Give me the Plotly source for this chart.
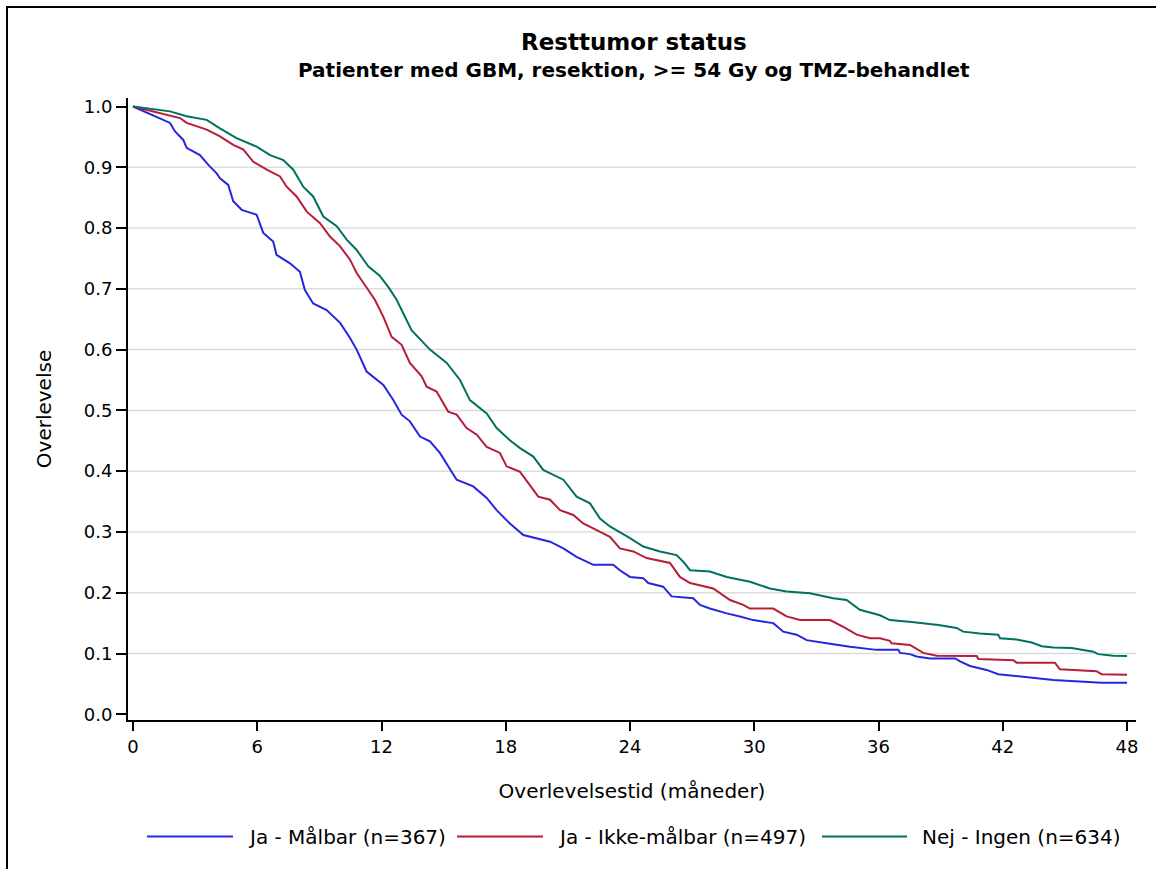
import plotly.graph_objects as go

# ---------------- data ----------------
months_malbar = [0, 0.34, 0.98, 1.46, 1.79, 2.03, 2.43, 2.59, 3.23, 3.64, 4.04, 4.2, 4.6, 4.84, 5.25,
                 5.97, 6.29, 6.77, 6.93, 7.58, 8.06, 8.3, 8.7, 9.35, 10.0, 10.48, 10.8, 11.28, 12.09,
                 12.57, 12.97, 13.37, 13.86, 14.34, 14.82, 15.22, 15.63, 16.43, 17.08, 17.56, 18.2,
                 18.85, 19.49, 20.14, 20.78, 21.42, 22.23, 23.19, 23.51, 24.0, 24.64, 24.88, 25.6,
                 26.01, 27.05, 27.38, 27.86, 28.67, 29.31, 29.95, 30.92, 31.4, 32.05, 32.53, 33.5,
                 34.62, 35.9, 36.96, 37.04, 37.52, 37.84, 38.48, 39.7, 39.94, 40.42, 41.22, 41.78,
                 42.99, 43.63, 44.44, 46.77, 48.0]
surv_malbar = [1.0, 0.995, 0.986, 0.978, 0.973, 0.959, 0.945, 0.932, 0.920, 0.904, 0.890, 0.882, 0.871,
               0.844, 0.830, 0.822, 0.792, 0.778, 0.756, 0.742, 0.728, 0.698, 0.676, 0.665, 0.644,
               0.619, 0.600, 0.564, 0.542, 0.517, 0.493, 0.482, 0.457, 0.449, 0.430, 0.408, 0.386,
               0.375, 0.356, 0.336, 0.314, 0.295, 0.290, 0.284, 0.273, 0.259, 0.246, 0.246, 0.237,
               0.226, 0.224, 0.216, 0.210, 0.194, 0.191, 0.180, 0.174, 0.166, 0.161, 0.155, 0.150,
               0.136, 0.131, 0.122, 0.117, 0.111, 0.106, 0.106, 0.101, 0.099, 0.095, 0.092, 0.092,
               0.087, 0.0795, 0.073, 0.066, 0.062, 0.059, 0.0565, 0.052, 0.052]

months_ikke = [0, 0.98, 2.27, 2.59, 3.56, 4.2, 4.84, 5.33, 5.81, 6.46, 7.1, 7.42, 7.9, 8.39, 9.03, 9.51,
               10.0, 10.48, 10.8, 11.36, 11.68, 12.09, 12.49, 12.97, 13.37, 13.94, 14.18, 14.66, 15.22,
               15.63, 16.11, 16.6, 17.08, 17.72, 18.04, 18.69, 19.17, 19.57, 20.14, 20.62, 21.26,
               21.74, 22.39, 23.03, 23.51, 24.16, 24.8, 25.93, 26.41, 26.9, 28.02, 28.83, 29.47,
               29.79, 30.92, 31.56, 32.21, 33.66, 34.3, 34.95, 35.59, 36.07, 36.55, 36.63, 37.52,
               37.84, 38.16, 38.81, 40.74, 40.82, 42.51, 42.67, 44.52, 44.76, 46.53, 46.77, 48.0]
surv_ikke = [1.0, 0.992, 0.981, 0.973, 0.962, 0.951, 0.937, 0.929, 0.909, 0.896, 0.885, 0.868, 0.852,
             0.827, 0.808, 0.786, 0.770, 0.748, 0.726, 0.698, 0.682, 0.654, 0.621, 0.608, 0.578,
             0.556, 0.539, 0.531, 0.498, 0.493, 0.471, 0.460, 0.440, 0.430, 0.408, 0.399, 0.377,
             0.358, 0.353, 0.336, 0.328, 0.314, 0.303, 0.292, 0.273, 0.268, 0.257, 0.249, 0.226,
             0.216, 0.207, 0.188, 0.180, 0.174, 0.174, 0.161, 0.155, 0.155, 0.144, 0.131, 0.125,
             0.125, 0.121, 0.117, 0.114, 0.107, 0.101, 0.0965, 0.096, 0.091, 0.089, 0.085, 0.085,
             0.074, 0.071, 0.066, 0.065]

months_ingen = [0, 1.79, 2.59, 3.56, 4.2, 5.0, 5.97, 6.62, 7.26, 7.74, 8.22, 8.7, 9.19, 9.84, 10.32,
                10.8, 11.36, 11.9, 12.35, 12.73, 13.45, 14.34, 15.15, 15.79, 16.27, 17.08, 17.56,
                18.2, 18.69, 19.33, 19.81, 20.78, 21.42, 22.07, 22.55, 23.03, 24.0, 24.64, 25.45,
                26.25, 26.57, 26.9, 27.86, 28.67, 29.79, 30.76, 31.56, 32.69, 33.81, 34.46, 35.1,
                36.07, 36.55, 37.6, 38.89, 39.77, 40.09, 40.9, 41.78, 41.87, 42.67, 43.4, 43.88,
                44.44, 45.33, 45.89, 46.37, 46.61, 47.34, 48.0]
surv_ingen = [1.0, 0.992, 0.984, 0.978, 0.964, 0.948, 0.934, 0.920, 0.912, 0.896, 0.868, 0.852, 0.819,
              0.803, 0.781, 0.764, 0.737, 0.722, 0.702, 0.682, 0.632, 0.600, 0.578, 0.550, 0.517,
              0.495, 0.471, 0.451, 0.438, 0.424, 0.402, 0.386, 0.358, 0.347, 0.322, 0.309, 0.290,
              0.276, 0.268, 0.262, 0.251, 0.237, 0.235, 0.226, 0.218, 0.207, 0.202, 0.199, 0.191,
              0.188, 0.172, 0.163, 0.155, 0.152, 0.147, 0.142, 0.136, 0.133, 0.131, 0.125, 0.123,
              0.118, 0.112, 0.110, 0.109, 0.106, 0.103, 0.099, 0.0965, 0.096]

series_names = ["Ja - Målbar (n=367)", "Ja - Ikke-målbar (n=497)", "Nej - Ingen (n=634)"]
x_ticks = [0, 6, 12, 18, 24, 30, 36, 42, 48]
y_ticks = [0.0, 0.1, 0.2, 0.3, 0.4, 0.5, 0.6, 0.7, 0.8, 0.9, 1.0]
grid_levels = [0.1, 0.2, 0.3, 0.4, 0.5, 0.6, 0.7, 0.8, 0.9]

title_text = "Resttumor status"
subtitle_text = "Patienter med GBM, resektion, >= 54 Gy og TMZ-behandlet"
x_title = "Overlevelsestid (måneder)"
y_title = "Overlevelse"

# ---------------- styling ----------------
FONT = "DejaVu Sans"
colors = ["#2626e0", "#b71c38", "#00705f"]
W, H = 1156, 869
L, R, T, B = 128, 20, 98, 149
PW, PH = W - L - R, H - T - B


def px(xp):
    return (xp - L) / PW


def py(yp):
    return (H - B - yp) / PH


fig = go.Figure()
for xs, ys, name, col in zip([months_malbar, months_ikke, months_ingen],
                             [surv_malbar, surv_ikke, surv_ingen], series_names, colors):
    fig.add_trace(go.Scatter(x=xs, y=ys, mode="lines", name=name, showlegend=False,
                             line=dict(color=col, width=2, shape="linear")))

shapes = []
# horizontal gridlines (not at 0 or 1)
for g in grid_levels:
    shapes.append(dict(type="line", xref="paper", yref="y", x0=0, x1=1, y0=g, y1=g,
                       line=dict(color="#dcdcdc", width=1.5), layer="below"))
# outer frame (top and left edges visible)
shapes.append(dict(type="rect", xref="paper", yref="paper", x0=px(7), y0=py(7),
                   x1=px(W + 50), y1=py(H + 50), line=dict(color="black", width=2),
                   fillcolor="rgba(0,0,0,0)", layer="below"))

annotations = [
    dict(text=f"<b>{title_text}</b>", xref="paper", yref="paper", x=px(634), y=py(42),
         xanchor="center", yanchor="middle", showarrow=False,
         font=dict(family=FONT, size=23, color="black")),
    dict(text=f"<b>{subtitle_text}</b>", xref="paper", yref="paper", x=px(634), y=py(70),
         xanchor="center", yanchor="middle", showarrow=False,
         font=dict(family=FONT, size=20, color="black")),
]

# legend (manual, to match the long sample lines)
leg_items = [(147, 233, 246), (457, 543, 556), (822, 907, 920)]
for (l0, l1, tx), name, col in zip(leg_items, series_names, colors):
    shapes.append(dict(type="line", xref="paper", yref="paper", x0=px(l0), x1=px(l1),
                       y0=py(836.5), y1=py(836.5), line=dict(color=col, width=2)))
    annotations.append(dict(text=name, xref="paper", yref="paper", x=px(tx), y=py(837),
                            xanchor="left", yanchor="middle", showarrow=False,
                            font=dict(family=FONT, size=20, color="black")))

fig.update_layout(
    width=W, height=H,
    margin=dict(l=L, r=R, t=T, b=B, pad=0),
    paper_bgcolor="white", plot_bgcolor="white",
    font=dict(family=FONT, size=18, color="black"),
    shapes=shapes, annotations=annotations, showlegend=False,
    xaxis=dict(range=[-0.2414, 48.4346], tickvals=x_ticks, ticktext=[str(v) for v in x_ticks],
               showgrid=False, zeroline=False, showline=True, linecolor="black", linewidth=2,
               ticks="outside", ticklen=9, tickwidth=2, tickcolor="black",
               tickfont=dict(family=FONT, size=18, color="black"),
               title=dict(text=x_title, font=dict(family=FONT, size=20, color="black"), standoff=28)),
    yaxis=dict(range=[-0.00938, 1.01399], tickvals=y_ticks, tickformat=".1f",
               showgrid=False, zeroline=False, showline=True, linecolor="black", linewidth=2,
               ticks="outside", ticklen=10, tickwidth=2, tickcolor="black",
               tickfont=dict(family=FONT, size=18, color="black"),
               title=dict(text=y_title, font=dict(family=FONT, size=20, color="black"), standoff=27)),
)

fig.write_html("out.html")
